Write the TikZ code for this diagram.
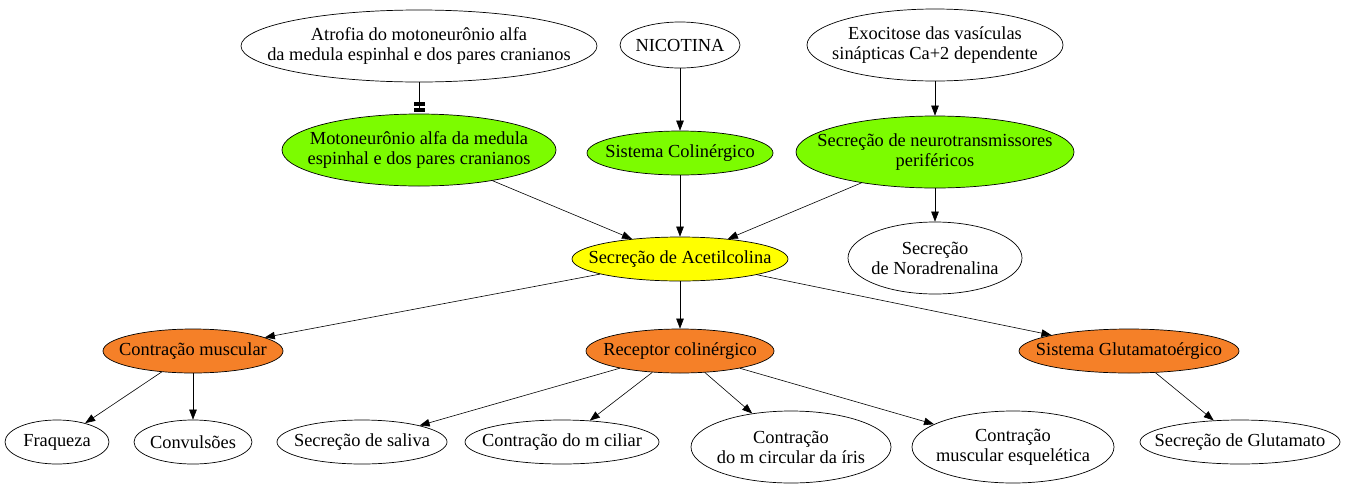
\documentclass[tikz,border=0pt]{standalone}
\usepackage{fontspec}
\setmainfont{Liberation Serif}
\usetikzlibrary{shapes.geometric,arrows.meta}
\definecolor{gvgreen}{RGB}{124,252,0}
\definecolor{gvyellow}{RGB}{255,255,0}
\definecolor{gvorange}{RGB}{245,128,40}
\begin{document}
\begin{tikzpicture}[x=1pt,y=-1pt,
  gv/.style={ellipse,draw,line width=0.7pt,inner sep=0pt,fill=white},
  txt/.style={inner sep=0pt,align=center,font=\fontsize{18.4}{20}\selectfont},
  green/.style={fill=gvgreen},
  yel/.style={fill=gvyellow},
  ora/.style={fill=gvorange},
  arr/.style={-{Triangle[length=10pt,width=7.5pt]},line width=0.6pt},
  teetee/.style={-{Rectangle[length=3.5pt,width=11pt,sep=2.5pt]Rectangle[length=3.5pt,width=11pt]},line width=0.6pt,shorten >=2.5pt}
]
\useasboundingbox (0,0) rectangle (1349,485);
% top row
\node[gv,minimum width=356,minimum height=72,label={[txt]center:Atrofia do motoneurônio alfa\\da medula espinhal e dos pares cranianos}] (atro) at (419,46) {};
\node[gv,minimum width=120,minimum height=46,label={[txt]center:NICOTINA}] (nic) at (680,45) {};
\node[gv,minimum width=256,minimum height=72,label={[txt]center:Exocitose das vasículas\\sinápticas Ca+2 dependente}] (exo) at (935,45) {};
% second row
\node[gv,green,minimum width=274,minimum height=72,label={[txt]center:Motoneurônio alfa da medula\\espinhal e dos pares cranianos}] (moto) at (419,150) {};
\node[gv,green,minimum width=186,minimum height=44,label={[txt]center:Sistema Colinérgico}] (sc) at (680,153) {};
\node[gv,green,minimum width=278,minimum height=72,label={[txt]center:Secreção de neurotransmissores\\periféricos}] (snt) at (935,152) {};
% third row
\node[gv,yel,minimum width=216,minimum height=44,label={[txt]center:Secreção de Acetilcolina}] (ach) at (680,259) {};
\node[gv,minimum width=174,minimum height=72,label={[txt]center:Secreção\\de Noradrenalina}] (nor) at (935,258) {};
% fourth row
\node[gv,ora,minimum width=180,minimum height=44,label={[txt]center:Contração muscular}] (cm) at (193,351) {};
\node[gv,ora,minimum width=188,minimum height=44,label={[txt]center:Receptor colinérgico}] (rc) at (680,351) {};
\node[gv,ora,minimum width=220,minimum height=44,label={[txt]center:Sistema Glutamatoérgico}] (sg) at (1129,351) {};
% bottom row
\node[gv,minimum width=104,minimum height=44,label={[txt]center:Fraqueza}] (fra) at (57,442) {};
\node[gv,minimum width=118,minimum height=44,label={[txt]center:Convulsões}] (conv) at (193,442) {};
\node[gv,minimum width=170,minimum height=44,label={[txt]center:Secreção de saliva}] (sal) at (362,442) {};
\node[gv,minimum width=194,minimum height=44,label={[txt]center:Contração do m ciliar}] (cil) at (562,442) {};
\node[gv,minimum width=200,minimum height=72,label={[txt]center:Contração\\do m circular da íris}] (iris) at (791,447) {};
\node[gv,minimum width=202,minimum height=72,label={[txt]center:Contração\\muscular esquelética}] (esq) at (1013,447) {};
\node[gv,minimum width=200,minimum height=44,label={[txt]center:Secreção de Glutamato}] (glu) at (1240,442) {};
% edges
\draw[teetee] (atro) -- (moto);
\draw[arr] (nic) -- (sc);
\draw[arr] (exo) -- (snt);
\draw[arr] (moto) -- (ach);
\draw[arr] (sc) -- (ach);
\draw[arr] (snt) -- (ach);
\draw[arr] (snt) -- (nor);
\draw[arr] (ach) -- (cm);
\draw[arr] (ach) -- (rc);
\draw[arr] (ach) -- (sg);
\draw[arr] (cm) -- (fra);
\draw[arr] (cm) -- (conv);
\draw[arr] (rc) -- (sal);
\draw[arr] (rc) -- (cil);
\draw[arr] (rc) -- (iris);
\draw[arr] (rc) -- (esq);
\draw[arr] (sg) -- (glu);
\end{tikzpicture}
\end{document}
